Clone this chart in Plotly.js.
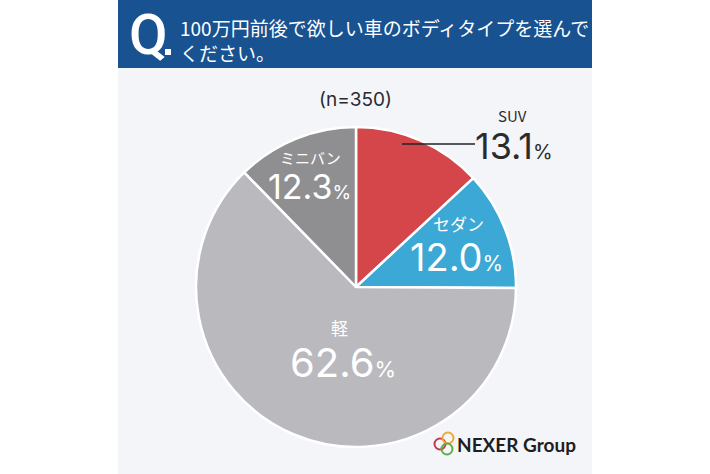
<!DOCTYPE html>
<html>
<head>
<meta charset="utf-8">
<script src="https://cdn.plot.ly/plotly-3.0.1.min.js"></script>
<style>
  html, body { margin: 0; padding: 0; background: #ffffff; }
  #chart { width: 710px; height: 474px; }
</style>
</head>
<body>
<div id="chart"></div>
<script>
let labels = ['SUV', 'セダン', '軽', 'ミニバン'];
let shares = [13.1, 12.0, 62.6, 12.3];
let colors = ['#d5464a', '#3ba8d5', '#bab9bd', '#8f8f92'];
let question = '100万円前後で欲しい車のボディタイプを選んで<br>ください。';
let sample = '(n=350)';

const W = 710, H = 474;
const px = x => x / W;
const py = y => 1 - y / H;

const jp = '"Noto Sans CJK JP", "Noto Sans", sans-serif';
const num = 'Inter, "Noto Sans CJK JP", sans-serif';

// label block for each slice: name line + number line (positions in pixels)
let labelPos = [
  { nx: 512, ny: 115, vx: 514, vy: 146, nsize: 15, vsize: 36, color: '#2b2b2e' },
  { nx: 458, ny: 223, vx: 456, vy: 257, nsize: 17, vsize: 38, color: '#ffffff' },
  { nx: 339, ny: 327, vx: 343, vy: 362, nsize: 17, vsize: 40, color: '#ffffff' },
  { nx: 310, ny: 158, vx: 309, vy: 187, nsize: 15, vsize: 34, color: '#ffffff' },
];

function note(x, y, text, font, extra) {
  return Object.assign({
    x: px(x), y: py(y), xref: 'paper', yref: 'paper',
    xanchor: 'center', yanchor: 'middle',
    text: text, showarrow: false, font: font,
  }, extra || {});
}

let annotations = [];
labels.forEach((name, i) => {
  let p = labelPos[i];
  annotations.push(note(p.nx, p.ny, name, { family: jp, size: p.nsize, color: p.color }));
  annotations.push(note(
    p.vx, p.vy,
    shares[i].toFixed(1) + '<span style="font-size:' + Math.round(p.vsize * 0.55) + 'px">%</span>',
    { family: num, size: p.vsize, color: p.color }
  ));
});

annotations.push(
  note(148, 35, 'Q', { family: 'Roboto, sans-serif', size: 56, color: '#ffffff', weight: 500 }),
  note(178, 40, question, { family: jp, size: 19, color: '#ffffff' }, { xanchor: 'left', align: 'left' }),
  note(355, 100, sample, { family: num, size: 19, color: '#2b2b2e' }),
  note(455, 444, '<b>NEXER Group</b>', { family: 'Lato, Roboto, sans-serif', size: 19, color: '#1e1e22' }, { xanchor: 'left' })
);

function ring(cx, cy, r, color) {
  return {
    type: 'circle', xref: 'paper', yref: 'paper',
    xsizemode: 'pixel', ysizemode: 'pixel',
    xanchor: px(cx), yanchor: py(cy),
    x0: -r, x1: r, y0: -r, y1: r,
    line: { color: color, width: 2 },
  };
}

let shapes = [
  {
    type: 'rect', xref: 'paper', yref: 'paper', layer: 'below',
    x0: px(118), x1: px(592), y0: 0, y1: py(68),
    fillcolor: '#f3f5f9', line: { width: 0 },
  },
  {
    type: 'rect', xref: 'paper', yref: 'paper', layer: 'below',
    x0: px(118), x1: px(592), y0: py(68), y1: 1,
    fillcolor: '#185291', line: { width: 0 },
  },
  {
    type: 'rect', xref: 'paper', yref: 'paper',
    x0: px(165), x1: px(171), y0: py(55), y1: py(49),
    fillcolor: '#ffffff', line: { width: 0 },
  },
  {
    type: 'line', xref: 'paper', yref: 'paper',
    x0: px(402), x1: px(475), y0: py(144), y1: py(144),
    line: { color: '#222226', width: 1.6 },
  },
  ring(440, 444, 5.5, '#c8374f'),
  ring(448, 438, 5.5, '#f0a83a'),
  ring(447, 449, 5.5, '#5daf48'),
];

let data = [
  {
    type: 'pie',
    labels: labels,
    values: shares,
    sort: false,
    direction: 'clockwise',
    rotation: 0,
    textinfo: 'none',
    hoverinfo: 'skip',
    marker: { colors: colors, line: { color: '#ffffff', width: 2.5 } },
    domain: { x: [px(196), px(516)], y: [py(447), py(127)] },
  },
];

Plotly.newPlot(
  'chart',
  data,
  {
    width: W,
    height: H,
    paper_bgcolor: '#ffffff',
    margin: { t: 0, r: 0, b: 0, l: 0 },
    showlegend: false,
    shapes: shapes,
    annotations: annotations,
  },
  { staticPlot: true }
);
</script>
</body>
</html>
